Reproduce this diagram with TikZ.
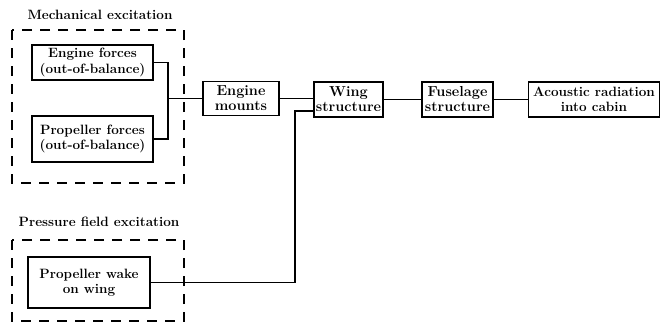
\documentclass[tikz,border=0pt]{standalone}
\usepackage{tikz}
\usetikzlibrary{positioning,backgrounds}

\begin{document}
\begin{tikzpicture}[x=1pt, y=-1pt, line width=1.7pt, font=\fontsize{13.5}{15.5}\selectfont\bfseries]

        \tikzstyle{block} = [draw, rectangle, align=center, inner sep=0.5pt]
        \tikzstyle{path block} = [block, font=\fontsize{14.5}{15}\selectfont\bfseries]
        \tikzstyle{group} = [draw, dash pattern=on 10pt off 8pt]
        \tikzstyle{title} = [inner sep=0pt]

        \useasboundingbox (0,0) rectangle (661,327);

        % excitation groups
        \draw [group] (12,30) rectangle (184,183);
        \draw [group] (12,240) rectangle (184,321);
        \node [title] (mtitle) at (100,15) {Mechanical excitation};
        \node [title] (ptitle) at (99,222) {Pressure field excitation};

        \node [block, minimum width=121pt, minimum height=35pt] (engine) at (92.5,62.5) {Engine forces\\(out-of-balance)};
        \node [block, minimum width=121pt, minimum height=46pt] (prop) at (92.5,139) {Propeller forces\\(out-of-balance)};
        \node [block, minimum width=122pt, minimum height=51pt] (wake) at (89,282.5) {Propeller wake\\on wing};

        % transmission path
        \node [path block, minimum width=76pt, minimum height=34pt] (mounts) at (241,98.5) {Engine\\mounts};
        \node [path block, minimum width=69pt, minimum height=35pt] (wing) at (348.5,99.5) {Wing\\structure};
        \node [path block, minimum width=71pt, minimum height=35pt] (fuselage) at (457.5,99.5) {Fuselage\\structure};
        \node [block, minimum width=131pt, minimum height=35pt] (cabin) at (594,99.5) {Acoustic radiation\\into cabin};

        \coordinate (join) at (168,98.5);
        \coordinate (bend) at (295,111);

        \draw (engine.east) -| (join) |- (prop.east);
        \draw (join) -- (mounts.west);
        \draw (mounts.east) -- (mounts.east -| wing.west);
        \draw (wing.east) -- (wing.east -| fuselage.west);
        \draw (fuselage.east) -- (fuselage.east -| cabin.west);
        \draw (wake.east) -| (bend) -- (bend -| wing.west);

    \end{tikzpicture}
\end{document}
